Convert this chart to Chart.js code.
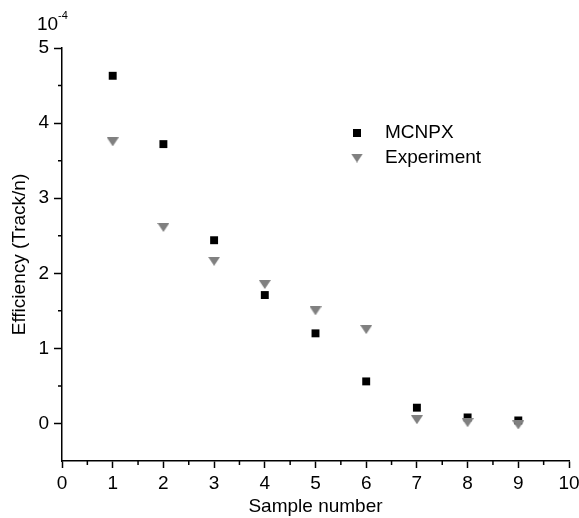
<!DOCTYPE html>
<html>
<head>
<meta charset="utf-8">
<script src="https://cdn.jsdelivr.net/npm/chart.js@4.4.1/dist/chart.umd.min.js"></script>
<style>
  html, body { margin: 0; padding: 0; background: #fff; }
  #wrap { width: 579px; height: 518px; }
</style>
</head>
<body>
<div id="wrap"><canvas id="effChart" width="579" height="518"></canvas></div>
<script>
// sample numbers and efficiencies (units of 1e-4 Track/n)
const samples = [1, 2, 3, 4, 5, 6, 7, 8, 9];
const mcnpx = [4.63, 3.72, 2.44, 1.71, 1.20, 0.56, 0.21, 0.08, 0.04];
const experiment = [3.75, 2.61, 2.16, 1.85, 1.50, 1.25, 0.05, 0.01, -0.02];
const seriesNames = ["MCNPX", "Experiment"];
const yExponent = "-4";

const FONT = "'Liberation Sans', Arial, sans-serif";
const GREY = "#808080";

// downward triangle marker
function makeTriangle(w, h, color) {
    const c = document.createElement("canvas");
    c.width = w; c.height = h;
    const g = c.getContext("2d");
    g.fillStyle = color;
    g.beginPath();
    g.moveTo(0, 0);
    g.lineTo(w, 0);
    g.lineTo(w / 2, h);
    g.closePath();
    g.fill();
    return c;
}
const triDown = makeTriangle(12, 9, GREY);

const isMajor = v => Math.abs(v - Math.round(v)) < 1e-6;

// short minor ticks at the half steps, legend and the 10^-4 factor
const extras = {
    id: "extras",
    afterDraw(chart) {
        const ctx = chart.ctx;
        const xs = chart.scales.x, ys = chart.scales.y;
        const area = chart.chartArea;
        ctx.save();
        ctx.strokeStyle = "#000";
        ctx.lineWidth = 1.5;
        ctx.beginPath();
        for (let v = 0.5; v < 10; v += 1) {
            const px = xs.getPixelForValue(v);
            ctx.moveTo(px, area.bottom);
            ctx.lineTo(px, area.bottom + 4);
        }
        for (let v = 0.5; v < 5; v += 1) {
            const py = ys.getPixelForValue(v);
            ctx.moveTo(area.left, py);
            ctx.lineTo(area.left - 4, py);
        }
        ctx.stroke();

        // legend
        const lx = 357, ly = [133, 158];
        ctx.fillStyle = "#000";
        ctx.fillRect(lx - 4, ly[0] - 4, 8, 8);
        ctx.drawImage(triDown, lx - 6, ly[1] - 4.5);
        ctx.font = "19px " + FONT;
        ctx.textBaseline = "middle";
        ctx.textAlign = "left";
        ctx.fillText(seriesNames[0], 385, ly[0]);
        ctx.fillText(seriesNames[1], 385, ly[1]);

        // axis multiplier
        ctx.textBaseline = "alphabetic";
        ctx.font = "19px " + FONT;
        ctx.fillText("10", 37, 30);
        ctx.font = "11px " + FONT;
        ctx.fillText(yExponent, 58, 19);
        ctx.restore();
    }
};

const ctx = document.getElementById("effChart").getContext("2d");
new Chart(ctx, {
    type: "scatter",
    data: {
        datasets: [{
            label: seriesNames[0],
            data: samples.map((s, i) => ({ x: s, y: mcnpx[i] })),
            pointStyle: "rect",
            pointRadius: 5.6,
            pointHoverRadius: 5.6,
            backgroundColor: "#000",
            borderWidth: 0,
            order: 2
        }, {
            label: seriesNames[1],
            data: samples.map((s, i) => ({ x: s, y: experiment[i] })),
            pointStyle: triDown,
            backgroundColor: GREY,
            borderWidth: 0,
            order: 1
        }]
    },
    options: {
        responsive: false,
        animation: false,
        layout: { padding: { top: 48, right: 10, left: 0, bottom: 0 } },
        plugins: {
            legend: { display: false },
            tooltip: { enabled: false }
        },
        scales: {
            x: {
                type: "linear",
                min: 0,
                max: 10,
                afterFit(scale) {
                    scale.height = 57;
                    scale.paddingLeft = 0;
                    scale.paddingRight = 0;
                },
                ticks: {
                    stepSize: 0.5,
                    padding: 4,
                    color: "#000",
                    font: { family: FONT, size: 19 },
                    maxRotation: 0,
                    autoSkip: false,
                    callback: v => isMajor(v) ? String(Math.round(v)) : ""
                },
                grid: {
                    drawOnChartArea: false,
                    drawTicks: true,
                    tickLength: 7,
                    tickWidth: 1.5,
                    tickColor: c => isMajor(c.tick.value) ? "#000" : "rgba(0,0,0,0)"
                },
                border: { display: true, color: "#000", width: 1.5 },
                title: {
                    display: true,
                    text: "Sample number",
                    color: "#000",
                    font: { family: FONT, size: 19 },
                    padding: 0
                }
            },
            y: {
                type: "linear",
                min: -0.5,
                max: 5,
                afterFit(scale) {
                    scale.width = 62;
                    scale.paddingTop = 0;
                    scale.paddingBottom = 0;
                },
                ticks: {
                    stepSize: 0.5,
                    padding: 5,
                    color: "#000",
                    font: { family: FONT, size: 19 },
                    autoSkip: false,
                    callback: v => isMajor(v) ? String(Math.round(v)) : ""
                },
                grid: {
                    drawOnChartArea: false,
                    drawTicks: true,
                    tickLength: 8,
                    tickWidth: 1.5,
                    tickColor: c => isMajor(c.tick.value) ? "#000" : "rgba(0,0,0,0)"
                },
                border: { display: true, color: "#000", width: 1.5 },
                title: {
                    display: true,
                    text: "Efficiency (Track/n)",
                    color: "#000",
                    font: { family: FONT, size: 19 },
                    padding: { top: 8, bottom: 0 }
                }
            }
        }
    },
    plugins: [extras]
});
</script>
</body>
</html>
